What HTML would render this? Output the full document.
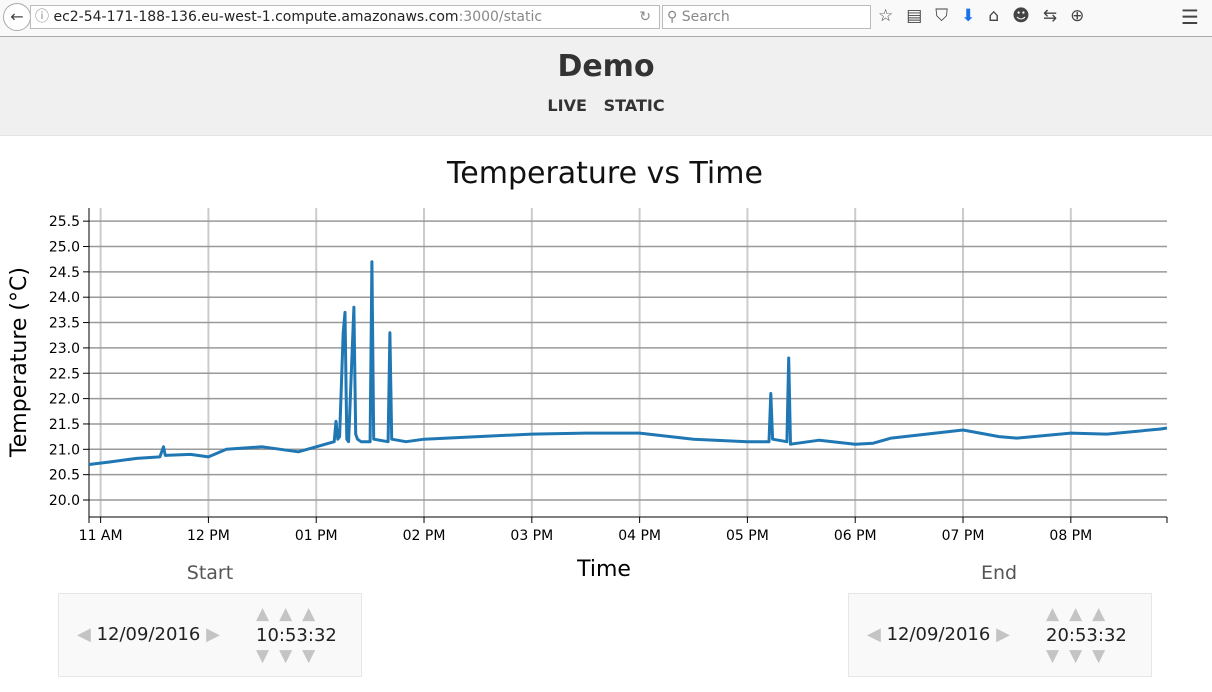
<!DOCTYPE html>
<html><head><meta charset="utf-8"><style>
body{margin:0;width:1212px;height:692px;overflow:hidden;background:#fff;font-family:"DejaVu Sans","Liberation Sans",sans-serif;position:relative}
.abs{position:absolute}
</style></head><body>
<div class="abs" style="left:0;top:0;width:1212px;height:36px;background:#f9f9f9;border-bottom:1px solid #aaa">
 <div class="abs" style="left:3px;top:3px;width:26px;height:26px;border:1px solid #aaa;border-radius:50%;background:#fff;text-align:center;line-height:26px;color:#444;font-size:16px">&#8592;</div>
 <div class="abs" style="left:30px;top:5px;width:624px;height:22px;border:1px solid #bbb;background:#fff;font-size:14px;line-height:22px;color:#222;padding-left:4px">
  <span style="color:#888">&#9432;&nbsp;</span>ec2-54-171-188-136.eu-west-1.compute.amazonaws.com<span style="color:#888">:3000/static</span>
  <span class="abs" style="right:8px;top:0;color:#888">&#8635;</span></div>
 <div class="abs" style="left:662px;top:5px;width:203px;height:22px;border:1px solid #bbb;background:#fff;font-size:14px;line-height:22px;color:#888;padding-left:4px">&#9906; Search</div>
 <div class="abs" style="left:878px;top:6px;font-size:17px;color:#444;letter-spacing:13px">☆▤⛉<span style="color:#1a73e8">⬇</span>⌂☻⇆⊕</div>
 <div class="abs" style="left:1181px;top:5px;font-size:20px;color:#444">&#9776;</div>
</div>
<div class="abs" style="left:0;top:37px;width:1212px;height:98px;background:#f0f0f0;border-bottom:1px solid #e4e4e4">
 <div class="abs" style="left:0;width:1212px;top:12px;text-align:center;font-size:30px;font-weight:bold;color:#333">Demo</div>
 <div class="abs" style="left:0;width:1212px;top:59px;text-align:center;font-size:16px;font-weight:bold;color:#333"><span>LIVE</span>&nbsp;&nbsp;&nbsp;<span>STATIC</span></div>
</div>
<svg class="abs" style="left:0;top:0" width="1212" height="692" id="chart"></svg>
<div class="abs" style="left:110px;width:200px;top:562px;text-align:center;font-size:19px;color:#555">Start</div>
<div class="abs" style="left:899px;width:200px;top:562px;text-align:center;font-size:19px;color:#555">End</div>
<div class="abs" style="left:58px;top:593px;width:302px;height:82px;background:#f9f9f9;border:1px solid #e6e6e6">
 <div class="abs" style="left:18px;top:30px;font-size:18px;color:#222"><span style="color:#c4c4c4">◀</span> <span>12/09/2016</span> <span style="color:#c4c4c4">▶</span></div>
 <div class="abs" style="left:197px;top:10px;font-size:17px;color:#c4c4c4;letter-spacing:10px">▲▲▲</div>
 <div class="abs" style="left:197px;top:31px;font-size:18px;color:#222">10:53:32</div>
 <div class="abs" style="left:197px;top:52px;font-size:17px;color:#c4c4c4;letter-spacing:10px">▼▼▼</div>
</div>
<div class="abs" style="left:848px;top:593px;width:302px;height:82px;background:#f9f9f9;border:1px solid #e6e6e6">
 <div class="abs" style="left:18px;top:30px;font-size:18px;color:#222"><span style="color:#c4c4c4">◀</span> <span>12/09/2016</span> <span style="color:#c4c4c4">▶</span></div>
 <div class="abs" style="left:197px;top:10px;font-size:17px;color:#c4c4c4;letter-spacing:10px">▲▲▲</div>
 <div class="abs" style="left:197px;top:31px;font-size:18px;color:#222">20:53:32</div>
 <div class="abs" style="left:197px;top:52px;font-size:17px;color:#c4c4c4;letter-spacing:10px">▼▼▼</div>
</div>
<script>
const times=["10:53","11:05","11:20","11:33","11:35","11:36","11:50","12:00","12:10","12:30","12:50","13:00","13:10","13:11","13:12","13:13","13:15","13:16","13:17","13:18","13:21","13:22","13:23","13:25","13:30","13:31","13:32","13:40","13:41","13:42","13:50","14:00","14:30","15:00","15:30","16:00","16:30","17:00","17:12","17:13","17:14","17:22","17:23","17:24","17:40","18:00","18:10","18:20","19:00","19:20","19:30","20:00","20:20","20:50","20:54"];
const temps=[20.7,20.75,20.82,20.85,21.05,20.88,20.9,20.85,21.0,21.05,20.95,21.05,21.15,21.55,21.2,21.25,23.3,23.7,21.2,21.15,23.8,21.3,21.2,21.15,21.15,24.7,21.2,21.15,23.3,21.2,21.15,21.2,21.25,21.3,21.32,21.32,21.2,21.15,21.15,22.1,21.2,21.15,22.8,21.1,21.18,21.1,21.12,21.22,21.38,21.25,21.22,21.32,21.3,21.4,21.42];
const yTicks=[20.0,20.5,21.0,21.5,22.0,22.5,23.0,23.5,24.0,24.5,25.0,25.5];
const xTickLabels=["11 AM","12 PM","01 PM","02 PM","03 PM","04 PM","05 PM","06 PM","07 PM","08 PM"];
const xTickHours=[11,12,13,14,15,16,17,18,19,20];
const NS="http://www.w3.org/2000/svg",svg=document.getElementById('chart');
const t0=10*60+53+32/60,L=89,R=1167,T=208,B=517;
function toMin(s){const p=s.split(':');return +p[0]*60+(+p[1])-t0;}
function x(m){return L+Math.max(0,Math.min(600,m))*(R-L)/600;}
function y(v){return 500-(v-20)*50.7;}
function mk(tag,a,p){const e=document.createElementNS(NS,tag);for(const k in a)e.setAttribute(k,a[k]);(p||svg).appendChild(e);return e;}
let t=mk('text',{x:605,y:183,'text-anchor':'middle','font-size':30,fill:'#111'});t.textContent='Temperature vs Time';


xTickHours.forEach((h,i)=>{const xx=x(h*60-t0);
 let g=mk('line',{x1:xx,x2:xx,y1:T,y2:B,stroke:'#ccc','stroke-width':2});
 
 
 mk('line',{x1:xx,x2:xx,y1:B,y2:B+6,stroke:'#000'});
 let l=mk('text',{x:xx,y:540,'text-anchor':'middle','font-size':14,fill:'#000'});l.textContent=xTickLabels[i];
 
 
});
yTicks.forEach(v=>{const yy=y(v);
 let g=mk('line',{x1:L,x2:R,y1:yy,y2:yy,stroke:'#999','stroke-width':1.5});
 
 
 mk('line',{x1:L-6,x2:L,y1:yy,y2:yy,stroke:'#000'});
 let l=mk('text',{x:L-9,y:yy+5,'text-anchor':'end','font-size':14,fill:'#000'});l.textContent=v.toFixed(1);
 
 
});
let ya=mk('line',{x1:L,x2:L,y1:T,y2:B,stroke:'#000'});


let xa=mk('line',{x1:L,x2:R,y1:B,y2:B,stroke:'#000'});


mk('line',{x1:R,x2:R,y1:B,y2:B+6,stroke:'#000'});mk('line',{x1:L,x2:L,y1:B,y2:B+6,stroke:'#000'});
let pts=times.map((s,i)=>x(toMin(s)).toFixed(1)+','+y(temps[i]).toFixed(1)).join(' ');
let pl=mk('polyline',{points:pts,fill:'none',stroke:'#1f77b4','stroke-width':3,'stroke-linejoin':'round'});


let xt=mk('text',{x:604,y:576,'text-anchor':'middle','font-size':22,fill:'#000'});xt.textContent='Time';


let yt=mk('text',{x:0,y:0,'text-anchor':'middle','font-size':22,fill:'#000',transform:'translate(26,362) rotate(-90)'});yt.textContent='Temperature (°C)';


</script>
</body></html>
